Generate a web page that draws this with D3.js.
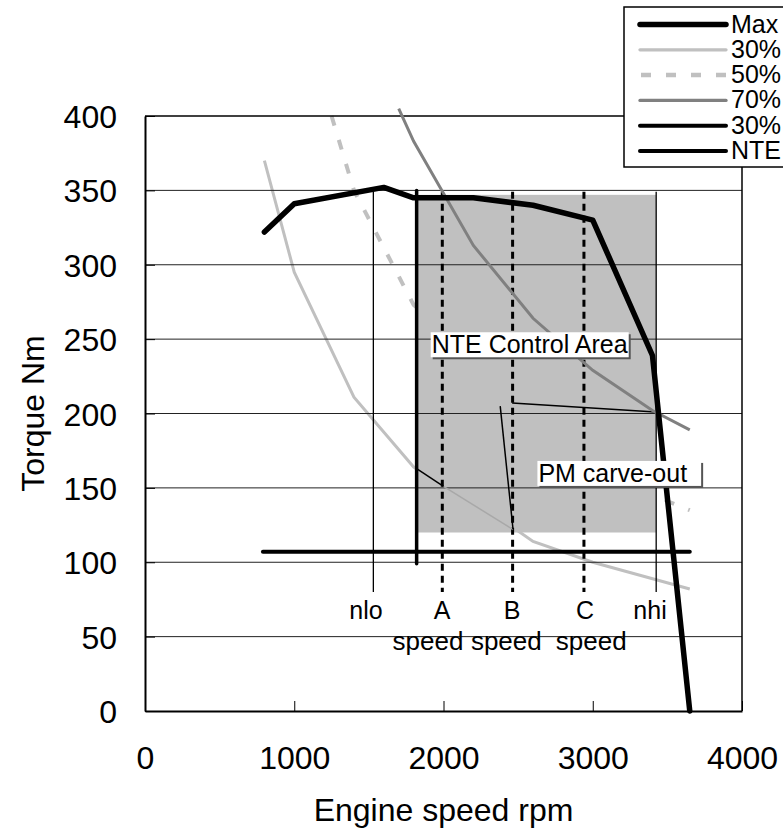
<!DOCTYPE html>
<html>
<head>
<meta charset="utf-8">
<script src="https://cdn.jsdelivr.net/npm/d3@7/dist/d3.min.js"></script>
<style>
  html, body { margin: 0; padding: 0; background: #fff; }
  svg { display: block; }
</style>
</head>
<body>
<script>
// ---------- data ----------
const xTicks = [0, 1000, 2000, 3000, 4000];
const yTicks = [0, 50, 100, 150, 200, 250, 300, 350, 400];

const maxSpeed  = [800, 1000, 1600, 1800, 2200, 2600, 3000, 3400, 3650];
const maxTorque = [322, 341, 352, 345, 345, 340, 330, 239, 0];

const p30Speed  = [800, 1000, 1400, 1800, 2000, 2500, 2600, 3000, 3650];
const p30Torque = [370, 295, 211, 164, 151, 121, 114, 100, 82];

const p50Speed  = [1250, 1400, 1800, 3500, 3650];
const p50Torque = [400, 350, 273, 141, 135];

const p70Speed  = [1700, 1800, 2200, 2600, 3000, 3400, 3650];
const p70Torque = [405, 383, 313, 264, 229, 202, 189];

const limit30Speed  = [790, 3650];
const limit30Torque = [107, 107];

const nteSpeed  = [1820, 1820];
const nteTorque = [99, 350];

const areaSpeed  = [1820, 3425];
const areaTorque = [120, 347];

const markerNames  = ["nlo", "A", "B", "C", "nhi"];
const markerSpeeds = [1530, 1992, 2463, 2941, 3425];
const markerTops   = [352, 349, 349, 349, 349];
const markerBottom = 80;
const markerDashed = [false, true, true, true, false];
const markerLabelSpeeds = [1481, 1990, 2459, 2948, 3384];
const markerLabelTorque = 62;

const speedWordSpeeds = [1896, 2421, 2990];
const speedWordTorque = 41;

// leader lines [speed0, torque0, speed1, torque1]
const leaderBlack = [[1820, 163, 2000, 151], [2380, 205, 2466, 122], [2460, 207, 3420, 201]];
const leaderGray  = [[2000, 151, 2466, 122]];

const legendNames = ["Max", "30%", "50%", "70%", "30%", "NTE"];

// ---------- layout ----------
const W = 783, H = 831;
const L = 145, R = 742, T = 116, B = 711;
const FONT = "'Liberation Sans', Arial, Helvetica, sans-serif";

const svg = d3.select("body").append("svg").attr("width", W).attr("height", H)
  .style("font-family", FONT);

const x = d3.scaleLinear().domain([0, 4000]).range([L, R]);
const y = d3.scaleLinear().domain([0, 400]).range([B, T]);

const zip = (a, b) => a.map((v, i) => [v, b[i]]);
const line = d3.line().x(d => x(d[0])).y(d => y(d[1]));

// lines hidden under the control area
svg.append("path").attr("d", line(zip(p30Speed, p30Torque)))
  .attr("fill", "none").attr("stroke", "#c0c0c0").attr("stroke-width", 3);
svg.append("path").attr("d", line(zip(p50Speed, p50Torque)))
  .attr("fill", "none").attr("stroke", "#c0c0c0").attr("stroke-width", 4)
  .attr("stroke-dasharray", "10,15");

// shaded NTE control area
svg.append("rect")
  .attr("x", x(areaSpeed[0])).attr("y", y(areaTorque[1]))
  .attr("width", x(areaSpeed[1]) - x(areaSpeed[0]))
  .attr("height", y(areaTorque[0]) - y(areaTorque[1]))
  .attr("fill", "#c0c0c0");

// gridlines
svg.append("g").selectAll("line").data(yTicks.filter(v => v > 0 && v < 400)).join("line")
  .attr("x1", L).attr("x2", R).attr("y1", d => y(d)).attr("y2", d => y(d))
  .attr("stroke", "#222").attr("stroke-width", 1);

// frame
svg.append("line").attr("x1", L).attr("x2", R).attr("y1", T).attr("y2", T)
  .attr("stroke", "#000").attr("stroke-width", 1.5);
svg.append("line").attr("x1", R).attr("x2", R).attr("y1", T).attr("y2", B)
  .attr("stroke", "#000").attr("stroke-width", 1.5);

// axes
const xAxis = d3.axisBottom(x).tickValues(xTicks).tickFormat(d3.format("d"))
  .tickSizeInner(-10).tickSizeOuter(0);
const gx = svg.append("g").attr("transform", `translate(0,${B})`).call(xAxis);
gx.select(".domain").attr("stroke", "#000").attr("stroke-width", 2);
gx.selectAll(".tick line").attr("stroke", "#000").attr("stroke-width", 1);
gx.selectAll(".tick text").attr("font-size", 32).attr("font-family", FONT).attr("fill", "#000")
  .attr("dy", "0.71em").attr("y", 35);

const yAxis = d3.axisLeft(y).tickValues(yTicks).tickFormat(d3.format("d"))
  .tickSizeInner(-10).tickSizeOuter(0);
const gy = svg.append("g").attr("transform", `translate(${L},0)`).call(yAxis);
gy.select(".domain").attr("stroke", "#000").attr("stroke-width", 2);
gy.selectAll(".tick line").attr("stroke", "#000").attr("stroke-width", 1);
gy.selectAll(".tick text").attr("font-size", 32).attr("font-family", FONT).attr("fill", "#000")
  .attr("x", -28).attr("dy", "0.36em");

// axis titles
svg.append("text").attr("x", (L + R) / 2).attr("y", 821)
  .attr("text-anchor", "middle").attr("font-size", 32).text("Engine speed rpm");
svg.append("text").attr("transform", `translate(44,${(T + B) / 2}) rotate(-90)`)
  .attr("text-anchor", "middle").attr("font-size", 32).text("Torque Nm");

// marker verticals
markerSpeeds.forEach((s, i) => {
  svg.append("line")
    .attr("x1", x(s)).attr("x2", x(s))
    .attr("y1", y(markerTops[i])).attr("y2", y(markerBottom))
    .attr("stroke", "#000")
    .attr("stroke-width", markerDashed[i] ? 3 : 1.3)
    .attr("stroke-dasharray", markerDashed[i] ? "7,5" : null);
});

// leader lines
leaderGray.forEach(d => svg.append("line")
  .attr("x1", x(d[0])).attr("y1", y(d[1])).attr("x2", x(d[2])).attr("y2", y(d[3]))
  .attr("stroke", "#a8a8a8").attr("stroke-width", 1.5));
leaderBlack.forEach(d => svg.append("line")
  .attr("x1", x(d[0])).attr("y1", y(d[1])).attr("x2", x(d[2])).attr("y2", y(d[3]))
  .attr("stroke", "#000").attr("stroke-width", 1.5));

// 70% line
svg.append("path").attr("d", line(zip(p70Speed, p70Torque)))
  .attr("fill", "none").attr("stroke", "#808080").attr("stroke-width", 3);

// 30% limit and NTE lines
svg.append("path").attr("d", line(zip(limit30Speed, limit30Torque)))
  .attr("fill", "none").attr("stroke", "#000").attr("stroke-width", 4).attr("stroke-linecap", "round");
svg.append("path").attr("d", line(zip(nteSpeed, nteTorque)))
  .attr("fill", "none").attr("stroke", "#000").attr("stroke-width", 3.5).attr("stroke-linecap", "round");

// Max line
svg.append("path").attr("d", line(zip(maxSpeed, maxTorque)))
  .attr("fill", "none").attr("stroke", "#000").attr("stroke-width", 5.5)
  .attr("stroke-linecap", "round").attr("stroke-linejoin", "round");

// marker labels
markerNames.forEach((n, i) => {
  svg.append("text").attr("x", x(markerLabelSpeeds[i])).attr("y", y(markerLabelTorque))
    .attr("text-anchor", "middle").attr("font-size", 25).text(n);
});
speedWordSpeeds.forEach(s => {
  svg.append("text").attr("x", x(s)).attr("y", y(speedWordTorque))
    .attr("text-anchor", "middle").attr("font-size", 26).text("speed");
});

// boxed labels
function boxLabel(txt, sx, st, extraRight) {
  const g = svg.append("g");
  const t = g.append("text").attr("x", x(sx)).attr("y", y(st)).attr("font-size", 25).text(txt);
  const bb = t.node().getBBox();
  const bx = bb.x - 1, by = bb.y + 2, bw = bb.width + 2 + extraRight, bh = bb.height - 3;
  g.insert("rect", "text").attr("x", bx + 2).attr("y", by + 2).attr("width", bw).attr("height", bh)
    .attr("fill", "#555");
  g.insert("rect", "text").attr("x", bx).attr("y", by).attr("width", bw).attr("height", bh)
    .attr("fill", "#fff");
}
boxLabel("NTE Control Area", 1921, 240.5, 0);
boxLabel("PM carve-out", 2636, 154, 13);

// legend
const lg = svg.append("g");
lg.append("rect").attr("x", 624).attr("y", 7).attr("width", 200).attr("height", 160)
  .attr("fill", "#fff").attr("stroke", "#000").attr("stroke-width", 1.5);
const legendStyles = [
  { c: "#000", w: 5.5, d: null },
  { c: "#c0c0c0", w: 3.3, d: null },
  { c: "#c0c0c0", w: 4.5, d: "10,15" },
  { c: "#808080", w: 3.3, d: null },
  { c: "#000", w: 4, d: null },
  { c: "#000", w: 4, d: null }
];
legendNames.forEach((n, i) => {
  const ly = 24.5 + i * 25.3;
  const s = legendStyles[i];
  lg.append("line").attr("x1", s.d ? 641 : 640).attr("x2", 726).attr("y1", ly).attr("y2", ly)
    .attr("stroke", s.c).attr("stroke-width", s.w)
    .attr("stroke-linecap", s.d ? "butt" : "round")
    .attr("stroke-dasharray", s.d);
  lg.append("text").attr("x", 731).attr("y", ly + 8).attr("font-size", 25).text(n);
});
</script>
</body>
</html>
